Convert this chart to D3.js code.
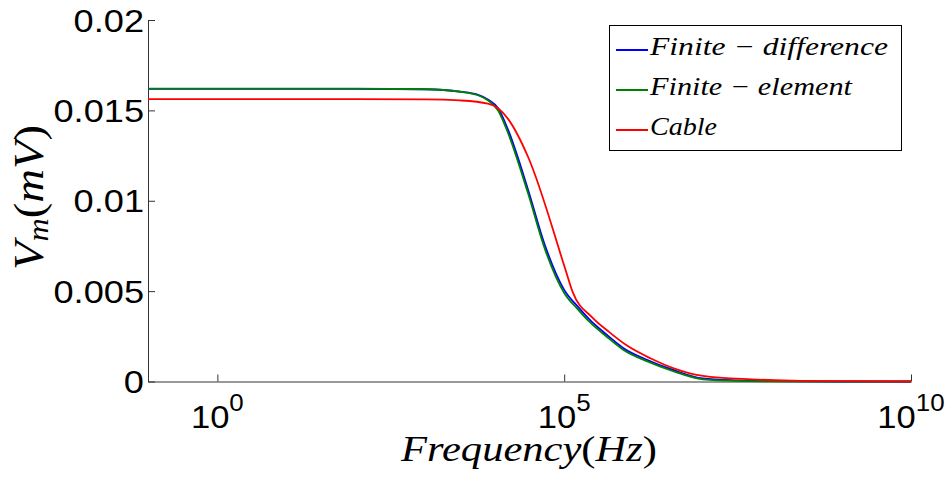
<!DOCTYPE html>
<html>
<head>
<meta charset="utf-8">
<script src="https://cdn.jsdelivr.net/npm/d3@7"></script>
<style>
  body { margin: 0; background: #fff; }
  svg { display: block; }
</style>
</head>
<body>
<div id="chart"></div>
<script>
// log10 of frequency (Hz) and Vm (mV)
const fdLog = [-1, 1, 2, 3, 3.5, 3.75, 3.9, 4.05, 4.19, 4.48, 4.72, 5.0, 5.2, 5.37, 5.6, 5.85, 6.2, 6.57, 7.0, 7.5, 8, 9, 10];
const fdVal = [0.01619, 0.01619, 0.01619, 0.01617, 0.01604, 0.01587, 0.0156, 0.0151, 0.01393, 0.0106, 0.00756, 0.00507, 0.00413, 0.00341, 0.00263, 0.00186, 0.00119, 0.00064, 0.00017, 0.00006, 0.00002, 0, 0];
const feVal = [0.0162, 0.0162, 0.0162, 0.01617, 0.01603, 0.01585, 0.01556, 0.01498, 0.01375, 0.0104, 0.00735, 0.0049, 0.00398, 0.00328, 0.00252, 0.00176, 0.00111, 0.00057, 0.00012, 0.00003, 0.00001, 0, 0];
const cabLog = [-1, 1, 2, 3, 3.5, 3.9, 4.05, 4.19, 4.48, 5.01, 5.12, 5.4, 5.65, 5.9, 6.25, 6.6, 7.0, 7.7, 8.3, 9, 10];
const cabVal = [0.01562, 0.01562, 0.01562, 0.01561, 0.01555, 0.01537, 0.0151, 0.01453, 0.01242, 0.00629, 0.00497, 0.00356, 0.00273, 0.002, 0.00127, 0.0007, 0.00031, 0.00012, 0.00005, 0.00002, 0];

const xTickExp = [0, 5, 10];
const yTicks = [0, 0.005, 0.01, 0.015, 0.02];
const yTickLabels = ['0', '0.005', '0.01', '0.015', '0.02'];
const seriesNames = ['Finite − difference', 'Finite − element', 'Cable'];
const seriesColors = ['#0000ff', '#008000', '#ff0000'];

const largura = 952, altura = 477;
const m = { left: 148, right: 911, top: 20, bottom: 381.5 };

const svg = d3.select('#chart')
  .append('svg')
  .attr('width', largura)
  .attr('height', altura);

const x = d3.scaleLog().domain([0.1, 1e10]).range([m.left, m.right]);
const y = d3.scaleLinear().domain([0, 0.02]).range([m.bottom, m.top]);

const sansFont = '"Liberation Sans", Arial, sans-serif';
const serifFont = '"Liberation Serif", "DejaVu Serif", serif';

// widen the sans labels a bit, the original font is broader than Arial
const alarga = (sel, f) => sel.each(function () {
  const w = this.getComputedTextLength();
  d3.select(this).attr('textLength', w * f).attr('lengthAdjust', 'spacingAndGlyphs');
});

// eixos
svg.append('g')
  .attr('transform', `translate(0,${m.bottom})`)
  .call(d3.axisBottom(x).tickValues(xTickExp.map(e => 10 ** e)).tickSizeInner(-7).tickSizeOuter(0).tickFormat(''));
svg.append('g')
  .attr('transform', `translate(${m.left},0)`)
  .call(d3.axisLeft(y).tickValues(yTicks).tickSizeInner(-7).tickSizeOuter(0).tickFormat(''));
svg.selectAll('.domain, .tick line').attr('stroke', '#333').attr('stroke-width', 1);

// rótulos do eixo y
svg.append('g')
  .selectAll('text')
  .data(yTicks)
  .enter()
  .append('text')
  .attr('x', m.left - 4)
  .attr('y', d => y(d))
  .attr('dy', '0.36em')
  .attr('text-anchor', 'end')
  .attr('font-family', sansFont)
  .attr('font-size', 32)
  .text((d, i) => yTickLabels[i])
  .call(alarga, 1.13);

// rótulos do eixo x (10^n)
const xl = svg.append('g')
  .selectAll('text')
  .data(xTickExp)
  .enter()
  .append('text')
  .attr('x', d => x(10 ** d))
  .attr('y', 428)
  .attr('text-anchor', 'middle')
  .attr('font-family', sansFont)
  .attr('font-size', 32);
xl.append('tspan').text('10');
xl.append('tspan').attr('dy', -17).attr('font-size', 24).text(d => d);
xl.call(alarga, 1.08);

// curvas
const line = d3.line()
  .x(d => x(10 ** d[0]))
  .y(d => y(d[1]))
  .curve(d3.curveMonotoneX);

const series = [
  fdLog.map((l, i) => [l, fdVal[i]]),
  fdLog.map((l, i) => [l, feVal[i]]),
  cabLog.map((l, i) => [l, cabVal[i]])
];

svg.append('g')
  .selectAll('path')
  .data(series)
  .enter()
  .append('path')
  .attr('d', line)
  .attr('fill', 'none')
  .attr('stroke', (d, i) => seriesColors[i])
  .attr('stroke-width', 1.8);

// títulos dos eixos
const xt = svg.append('text')
  .attr('x', 401)
  .attr('y', 461)
  .attr('font-family', serifFont)
  .attr('font-size', 36)
  .attr('textLength', 256)
  .attr('lengthAdjust', 'spacingAndGlyphs');
xt.append('tspan').attr('font-style', 'italic').text('Frequency');
xt.append('tspan').text('(');
xt.append('tspan').attr('font-style', 'italic').text('Hz');
xt.append('tspan').text(')');

const yt = svg.append('text')
  .attr('transform', 'translate(43,270) rotate(-90)')
  .attr('font-family', serifFont)
  .attr('font-size', 42)
  .attr('textLength', 145)
  .attr('lengthAdjust', 'spacingAndGlyphs');
yt.append('tspan').attr('font-style', 'italic').text('V');
yt.append('tspan').attr('font-style', 'italic').attr('font-size', 29).attr('dy', 5).text('m');
yt.append('tspan').attr('dy', -5).text('(');
yt.append('tspan').attr('font-style', 'italic').text('mV');
yt.append('tspan').text(')');

// legenda
const leg = svg.append('g');
leg.append('rect')
  .attr('x', 609.5).attr('y', 25.5)
  .attr('width', 292).attr('height', 125)
  .attr('fill', '#fff').attr('stroke', '#000').attr('stroke-width', 1);
const legLens = [238, 202, 67];
seriesNames.forEach((name, i) => {
  const ly = 50 + i * 40;
  leg.append('line')
    .attr('x1', 616).attr('x2', 648)
    .attr('y1', ly).attr('y2', ly)
    .attr('stroke', seriesColors[i]).attr('stroke-width', 2);
  leg.append('text')
    .attr('x', 650).attr('y', ly + 5)
    .attr('font-family', serifFont)
    .attr('font-style', 'italic')
    .attr('font-size', 25)
    .attr('textLength', legLens[i])
    .attr('lengthAdjust', 'spacingAndGlyphs')
    .text(name);
});
</script>
</body>
</html>
